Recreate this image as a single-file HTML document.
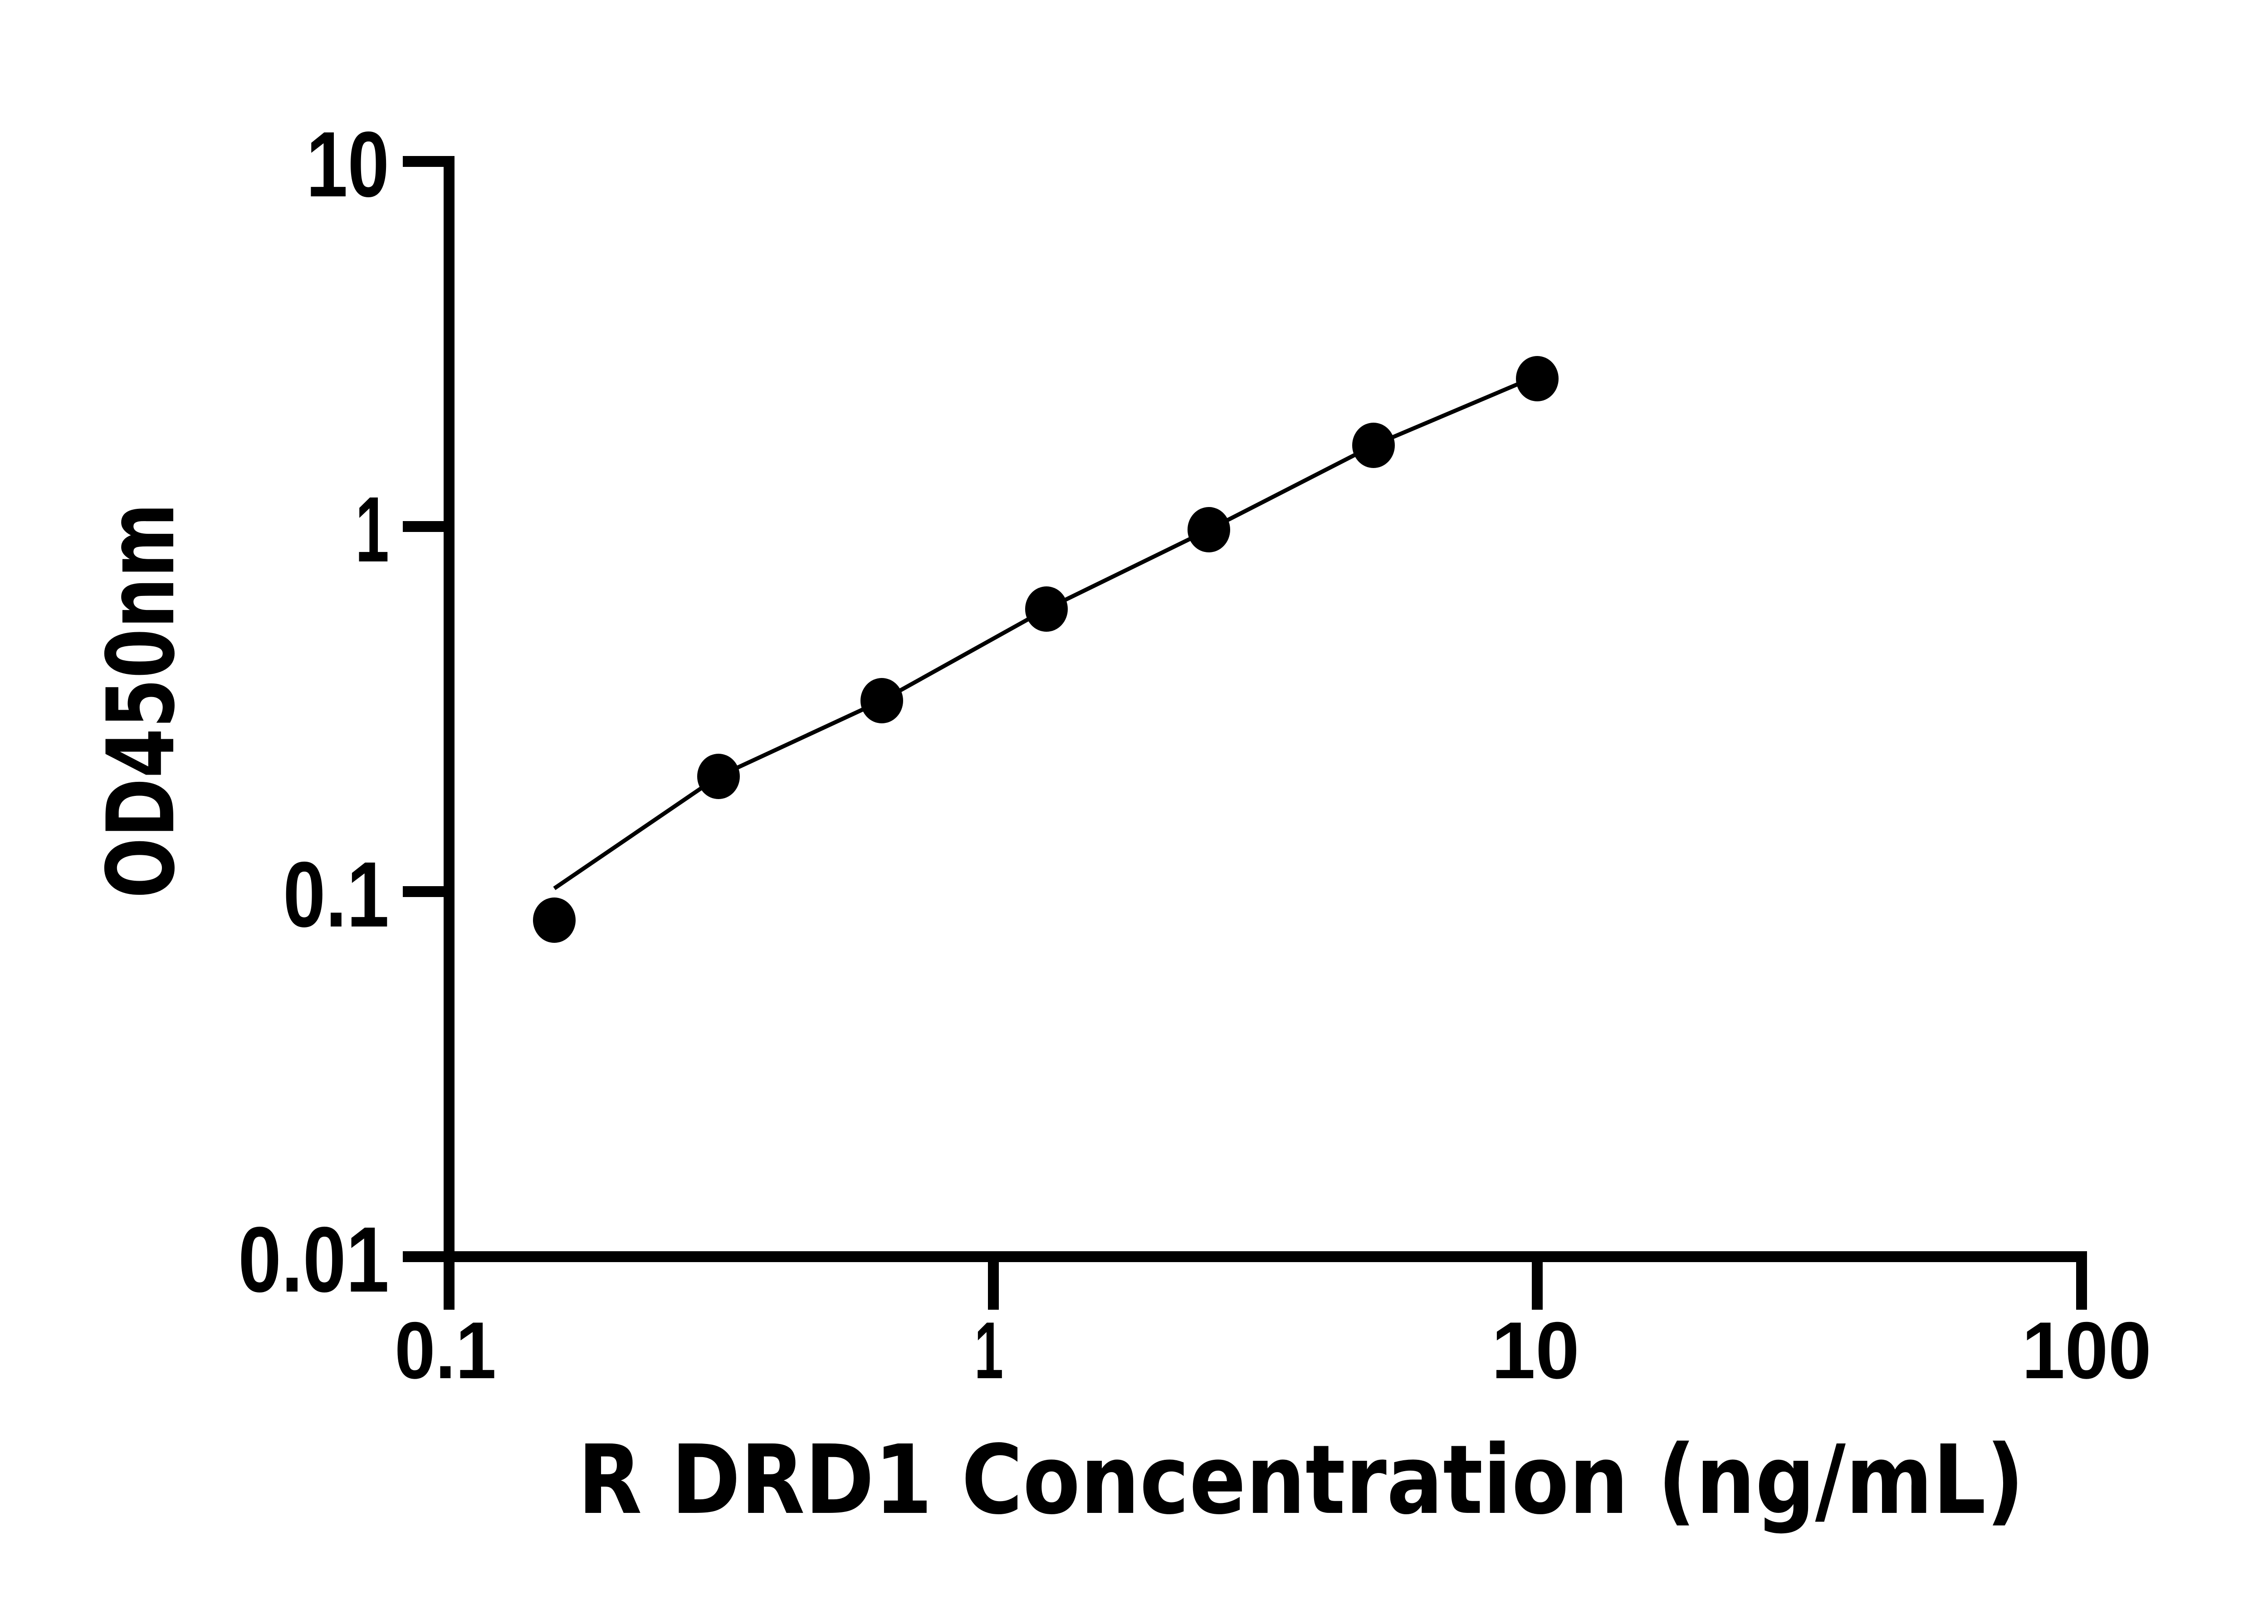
<!DOCTYPE html>
<html><head><style>html,body{margin:0;padding:0;background:#fff}
.t{font-family:"Liberation Sans",Arial,sans-serif;font-weight:bold}
.d{font-family:"DejaVu Sans",sans-serif;font-weight:bold}</style></head>
<body>
<svg width="5142" height="3576" viewBox="0 0 5142 3576" xmlns="http://www.w3.org/2000/svg">
<rect width="5142" height="3576" fill="#fff"/>
<g stroke="#000" stroke-width="24" fill="none" stroke-linecap="butt">
<line x1="990" y1="344" x2="990" y2="2888"/>
<line x1="888" y1="2771" x2="4601" y2="2771"/>
<line x1="888" y1="356" x2="1002" y2="356"/>
<line x1="888" y1="1161" x2="990" y2="1161"/>
<line x1="888" y1="1966" x2="990" y2="1966"/>
<line x1="2190" y1="2771" x2="2190" y2="2888"/>
<line x1="3389" y1="2771" x2="3389" y2="2888"/>
<line x1="4589" y1="2759" x2="4589" y2="2888"/>
</g>
<polyline fill="none" stroke="#000" stroke-width="9" points="1222,1959 1584,1712 1944,1545 2307,1343 2665,1168 3028,982 3351,845"/>
<g fill="#000">
<ellipse cx="1222" cy="2029" rx="47" ry="50"/>
<ellipse cx="1584" cy="1712" rx="47" ry="50"/>
<ellipse cx="1944" cy="1545" rx="47" ry="50"/>
<ellipse cx="2307" cy="1343" rx="47" ry="50"/>
<ellipse cx="2665" cy="1168" rx="47" ry="50"/>
<ellipse cx="3028" cy="982" rx="47" ry="50"/>
<ellipse cx="3389" cy="835" rx="47" ry="50"/>
</g>
<g class="t" font-size="205" fill="#000" text-anchor="end">
<text x="858" y="433" textLength="183" lengthAdjust="spacingAndGlyphs">10</text>
<text x="858" y="1238" textLength="75" lengthAdjust="spacingAndGlyphs">1</text>
<text x="858" y="2043" textLength="234" lengthAdjust="spacingAndGlyphs">0.1</text>
<text x="858" y="2848" textLength="333" lengthAdjust="spacingAndGlyphs">0.01</text>
</g>
<g class="t" font-size="178" fill="#000" text-anchor="middle">
<text x="982" y="3039" textLength="224" lengthAdjust="spacingAndGlyphs">0.1</text>
<text x="2180" y="3039" textLength="64" lengthAdjust="spacingAndGlyphs">1</text>
<text x="3385" y="3039" textLength="194" lengthAdjust="spacingAndGlyphs">10</text>
<text x="4600" y="3039" textLength="286" lengthAdjust="spacingAndGlyphs">100</text>
</g>
<text class="d" x="2868" y="3336" text-anchor="middle" font-size="210" textLength="3189" lengthAdjust="spacingAndGlyphs">R DRD1 Concentration (ng/mL)</text>
<text class="d" transform="translate(382,1545) rotate(-90)" text-anchor="middle" font-size="205" textLength="872" lengthAdjust="spacingAndGlyphs">OD450nm</text>
</svg>
</body></html>
